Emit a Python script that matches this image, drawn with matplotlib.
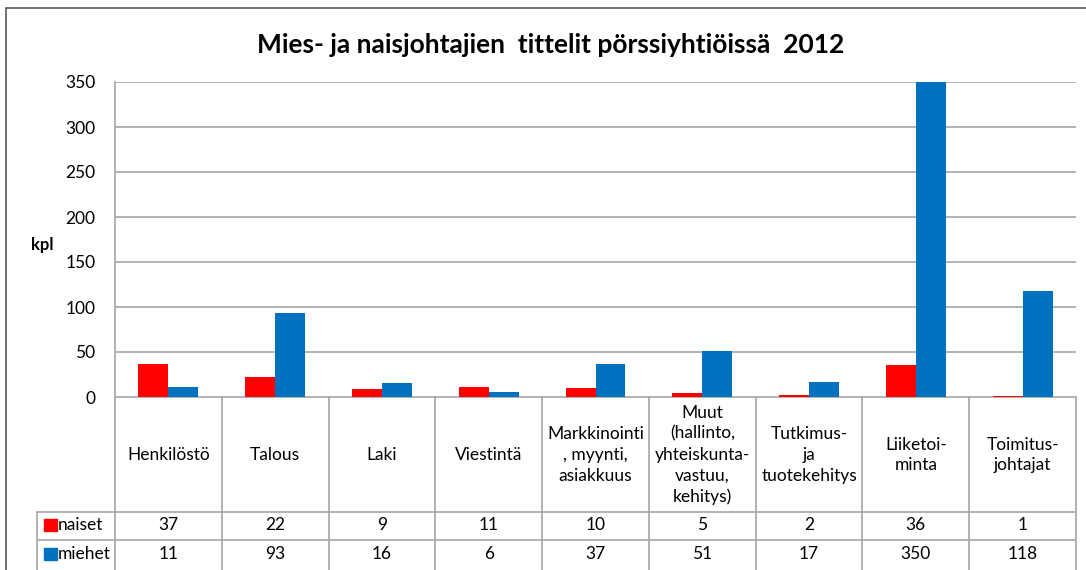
import numpy as np
import matplotlib.pyplot as plt
from matplotlib.patches import Rectangle

plt.rcParams['font.family'] = ['Lato', 'DejaVu Sans']

categories = ['Henkilöstö', 'Talous', 'Laki', 'Viestintä',
              'Markkinointi\n, myynti,\nasiakkuus',
              'Muut\n(hallinto,\nyhteiskunta-\nvastuu,\nkehitys)',
              'Tutkimus-\nja\ntuotekehitys', 'Liiketoi-\nminta',
              'Toimitus-\njohtajat']
naiset = [37, 22, 9, 11, 10, 5, 2, 36, 1]
miehet = [11, 93, 16, 6, 37, 51, 17, 350, 118]
series = [('naiset', naiset, '#ff0000'), ('miehet', miehet, '#0070c0')]

W, H = 1086, 570
fig = plt.figure(figsize=(W / 100, H / 100), dpi=100)

def px(x0, y0, x1, y1):
    return [x0 / W, 1 - y1 / H, (x1 - x0) / W, (y1 - y0) / H]

# outer chart border
fig.add_artist(Rectangle((6 / W, -0.1), 1.2, 1 - 8 / H + 0.1, transform=fig.transFigure,
                         fill=False, edgecolor='#595959', linewidth=1.2))

ax = fig.add_axes(px(115, 82, 1076, 397))
x = np.arange(len(categories)) + 0.5
bw = 0.28
for i, (name, vals, col) in enumerate(series):
    ax.bar(x + (i - 0.5) * bw, vals, bw, color=col, zorder=3)
ax.set_xlim(0, len(categories))
ax.set_ylim(0, 350)
ax.set_yticks(range(0, 351, 50))
ax.tick_params(axis='y', length=0, labelsize=12.5, pad=14)
ax.set_xticks([])
ax.grid(axis='y', color='#a6a6a6', linewidth=1.2, zorder=0)
for s in ['right', 'bottom', 'top']:
    ax.spines[s].set_visible(False)
ax.spines['left'].set_color('#a6a6a6')
ax.spines['left'].set_linewidth(1.2)

fig.text(551 / W, 1 - 45 / H, 'Mies- ja naisjohtajien  tittelit pörssiyhtiöissä  2012',
         ha='center', va='center', fontsize=19, fontweight='bold')
fig.text(42 / W, 1 - 245 / H, 'kpl', ha='center', va='center', fontsize=12, fontweight='bold')

# data table
cw = (1076 - 115) / len(categories)
tab = fig.add_axes(px(37, 397, 1076, 570))
tab.set_xlim(-(115 - 37) / cw, len(categories))
tab.set_ylim(173, 0)
tab.axis('off')
lc = '#a6a6a6'
rows_y = [115, 143, 173]
for k in range(len(categories) + 1):
    tab.plot([k, k], [0, 173], color=lc, lw=1.2, clip_on=False)
x0 = -(115 - 37) / cw
tab.plot([x0, x0], [115, 173], color=lc, lw=1.2, clip_on=False)
tab.plot([0, len(categories)], [0, 0], color=lc, lw=1.2)
for yy in [115, 143]:
    tab.plot([x0, len(categories)], [yy, yy], color=lc, lw=1.2)
for k, c in enumerate(categories):
    tab.text(k + 0.5, 58, c, ha='center', va='center', fontsize=12.5, linespacing=1.38)
for r, (name, vals, col) in enumerate(series):
    yc = (rows_y[r] + rows_y[r + 1]) / 2 - 1
    for k, v in enumerate(vals):
        tab.text(k + 0.5, yc, str(v), ha='center', va='center', fontsize=12.5)
    tab.add_patch(Rectangle((x0 + 7 / cw, yc - 6), 13 / cw, 12, color=col, clip_on=False))
    tab.text(x0 + 21 / cw, yc, name, ha='left', va='center', fontsize=12.5)

fig.savefig('out.png', dpi=100)
